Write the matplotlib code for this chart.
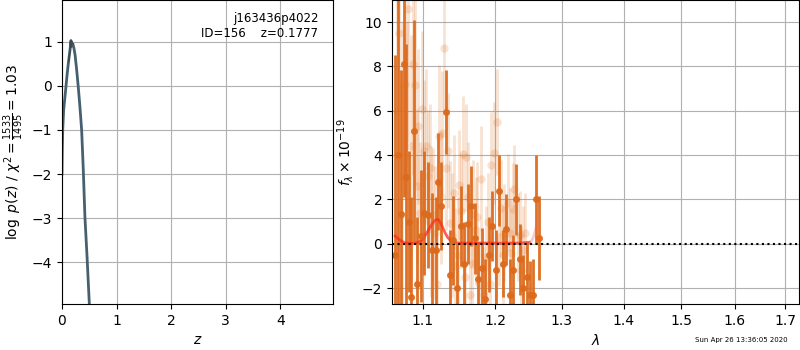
import matplotlib
matplotlib.use('Agg')
import matplotlib.pyplot as plt
from matplotlib.ticker import NullLocator

# p(z) curve
z_grid = [0, 0.005, 0.013, 0.03, 0.055, 0.075, 0.097, 0.12, 0.147, 0.165, 0.17, 0.178,
          0.2, 0.22, 0.24, 0.27, 0.3, 0.33, 0.36, 0.39, 0.42, 0.46, 0.5, 0.52]
logpz = [-2.0, -1.5, -1.0, -0.55, -0.24, 0.02, 0.3, 0.55, 0.82, 1.03, 0.9, 0.98,
         0.95, 0.85, 0.7, 0.35, -0.05, -0.5, -1.0, -1.9, -2.97, -3.9, -4.93, -5.4]

# first spectrum (dark points)
d_wave = [1.064, 1.068, 1.071, 1.075, 1.078, 1.082, 1.085, 1.088, 1.092, 1.097,
          1.102, 1.107, 1.112, 1.117, 1.120, 1.124, 1.131, 1.136, 1.141, 1.146,
          1.151, 1.156, 1.161, 1.166, 1.171, 1.176, 1.181, 1.186, 1.191, 1.196,
          1.201, 1.206, 1.211, 1.216, 1.221, 1.226, 1.231, 1.236, 1.241, 1.246,
          1.251, 1.256, 1.260, 1.265]
d_flux = [-0.5, 4.0, 1.35, 8.1, 3.0, 1.0, -2.4, 5.1, -1.8, 0.35,
          1.4, 1.3, -0.3, -0.3, 2.8, 1.7, 5.95, -1.4, 0.15, -2.0,
          0.8, -0.9, 0.9, 1.7, 0.25, -1.6, -1.1, -2.5, -0.5, 0.8,
          -1.2, 2.4, -0.9, 0.65, -2.3, -1.2, 2.0, -0.7, -2.0, -1.5,
          -2.3, -2.3, 2.0, 0.25]
d_err = [9, 8, 6.5, 6, 6, 3.2, 4.5, 5.0, 3.0, 3.0,
         2.8, 2.4, 2.6, 2.4, 2.2, 2.0, 1.9, 2.0, 2.0, 2.0,
         1.8, 1.9, 1.8, 1.8, 1.6, 1.7, 1.8, 1.8, 1.7, 1.6,
         1.8, 1.6, 1.5, 1.6, 1.6, 1.6, 1.6, 1.6, 1.5, 1.6,
         1.5, 1.6, 2.0, 1.9]

# second spectrum (light points)
l_wave = [1.066, 1.069, 1.071, 1.073, 1.077, 1.079, 1.081, 1.084, 1.087, 1.090,
          1.092, 1.094, 1.096, 1.099, 1.101, 1.104, 1.107, 1.109, 1.111, 1.114,
          1.116, 1.119, 1.122, 1.124, 1.126, 1.129, 1.131, 1.134, 1.137, 1.139,
          1.142, 1.144, 1.147, 1.149, 1.152, 1.154, 1.157, 1.159, 1.162, 1.164,
          1.167, 1.169, 1.172, 1.174, 1.177, 1.179, 1.184, 1.187, 1.189, 1.192,
          1.194, 1.198, 1.202, 1.205, 1.208, 1.211, 1.213, 1.218, 1.221, 1.223,
          1.226, 1.228, 1.233, 1.236, 1.238, 1.241, 1.243]
l_flux = [6.0, 9.5, 1.3, 3.0, 7.2, 4.0, 10.6, 4.4, 8.1, 7.15,
          2.6, 5.3, 1.4, 6.1, 4.2, 4.4, 3.05, 3.4, 1.0, 1.3,
          0.5, -1.8, 4.85, 2.1, 5.0, 8.85, 3.4, 4.2, 0.95, 0.4,
          2.3, -1.0, -0.5, 2.65, 1.5, 4.05, -1.5, 3.9, 2.1, -2.3,
          -0.9, 1.4, 0.6, 1.2, -1.8, 2.9, -2.3, -0.6, 1.0, -1.8,
          3.55, 4.1, 5.5, 0.3, 1.6, -0.5, 0.5, 1.85, 0.5, -0.4,
          1.55, 2.45, 0.3, 0.4, -1.2, -0.3, 0.5]
l_err = [9, 8, 6, 7, 5, 6, 6, 5, 5, 4.5,
         3.5, 3.5, 3.2, 3.5, 3.2, 3.5, 3.0, 2.9, 3.4, 3.0,
         3.0, 3.0, 3.2, 3.0, 2.8, 2.8, 2.8, 2.6, 2.8, 2.8,
         2.6, 2.6, 2.6, 2.5, 2.6, 2.6, 2.5, 2.4, 2.5, 2.4,
         2.4, 2.4, 2.4, 2.5, 2.3, 2.4, 2.2, 2.3, 2.2, 2.2,
         2.4, 2.3, 2.4, 2.2, 2.2, 2.2, 2.2, 2.2, 2.0, 2.0,
         2.1, 2.0, 2.0, 2.0, 2.0, 2.0, 1.8]

# best-fit model
m_wave = [1.064, 1.068, 1.072, 1.076, 1.080, 1.085, 1.090, 1.095, 1.100, 1.104, 1.108,
          1.112, 1.116, 1.119, 1.121, 1.124, 1.127, 1.130, 1.133, 1.137, 1.141, 1.145,
          1.150, 1.160, 1.180, 1.200, 1.220, 1.240, 1.250]
m_flux = [0.35, 0.22, 0.12, 0.05, 0.02, 0.02, 0.03, 0.08, 0.22, 0.42, 0.65,
          0.88, 1.05, 1.1, 1.08, 0.92, 0.7, 0.48, 0.3, 0.15, 0.07, 0.04,
          0.03, 0.03, 0.03, 0.03, 0.03, 0.04, 0.06]
m2_wave = [1.240, 1.250, 1.254, 1.257, 1.260, 1.262]
m2_flux = [0.04, 0.06, 0.15, 0.35, 0.7, 1.0]

xticks = [1.1, 1.2, 1.3, 1.4, 1.5, 1.6, 1.7]

fig = plt.figure(figsize=(8, 3.5), dpi=100)

ax = fig.add_axes([0.0775, 0.1314, 0.339, 0.8686])
ax.plot(z_grid, logpz, color='#46606f', lw=2)
ax.plot(z_grid[7:13], logpz[7:13], color='0.25', lw=1, alpha=0.8)
ax.set_xlim(0, 4.97)
ax.set_ylim(-4.95, 1.95)
ax.set_xticks([0, 1, 2, 3, 4])
ax.set_xlabel(r'$z$')
ax.set_ylabel(r'$\log\ p(z)$' + ' / ' + r'$\chi^2=\frac{1533}{1495}=1.03$')
ax.text(0.945, 0.96, 'j163436p4022\nID=156    z=0.1777', transform=ax.transAxes,
        ha='right', va='top', fontsize=8.5)
ax.grid()

ax = fig.add_axes([0.49, 0.1314, 0.509, 0.8686])
ax.errorbar(l_wave, l_flux, yerr=l_err, fmt='o', color='#e07020',
            alpha=0.2, ms=6, elinewidth=2, mec='none')
ax.errorbar(d_wave, d_flux, yerr=d_err, fmt='o', color='#dc6a1c',
            alpha=0.95, ms=5, elinewidth=2, mec='none')
ax.plot(m_wave, m_flux, color='#ff2a1a', lw=2, alpha=0.75)
ax.plot(m2_wave, m2_flux, color='#ff6060', lw=2, alpha=0.35)
ax.set_xscale('log')
ax.set_xlim(1.06, 1.729)
ax.plot([1.06, 1.729], [0, 0], color='k', ls=':', lw=1.5)
ax.set_ylim(-2.72, 11.0)
ax.set_xticks(xticks)
ax.set_xticklabels(['%.1f' % t for t in xticks])
ax.xaxis.set_minor_locator(NullLocator())
ax.set_xlabel(r'$\lambda$')
ax.set_ylabel(r'$f_\lambda\times10^{-19}$')
ax.grid()

fig.text(0.984, 0.029, 'Sun Apr 26 13:36:05 2020', ha='right', va='center', fontsize=5)

fig.savefig('out.png', dpi=100)
